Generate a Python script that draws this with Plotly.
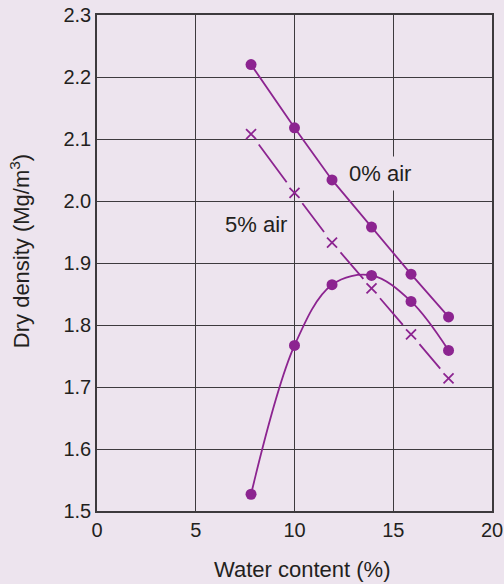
import math
import plotly.graph_objects as go

# water content (%) and dry densities (Mg/m3)
water = [7.8, 10.0, 11.9, 13.9, 15.9, 17.8]
air0 = [2.220, 2.118, 2.034, 1.958, 1.882, 1.813]
air5 = [2.108, 2.013, 1.933, 1.859, 1.785, 1.714]
dry = [1.527, 1.767, 1.865, 1.880, 1.838, 1.759]

x_ticks = [0, 5, 10, 15, 20]
y_ticks = [1.5, 1.6, 1.7, 1.8, 1.9, 2.0, 2.1, 2.2, 2.3]

BG = "#ede4ee"
PURPLE = "#8c2490"
INK = "#231f20"
GRID = "#3d3a3d"
FONT = "Liberation Sans, Arial, sans-serif"

W, H = 504, 584
ML, MR, MT, MB = 97, 12, 15, 73
px_x = (W - ML - MR) / (x_ticks[-1] - x_ticks[0])
px_y = (H - MT - MB) / (y_ticks[-1] - y_ticks[0])

fig = go.Figure()

# compaction curve
fig.add_trace(go.Scatter(x=water, y=dry, mode="lines+markers",
                         line=dict(color=PURPLE, width=1.8, shape="spline", smoothing=1.0),
                         marker=dict(color=PURPLE, size=11)))

# 0% air voids line
fig.add_trace(go.Scatter(x=water, y=air0, mode="lines+markers",
                         line=dict(color=PURPLE, width=1.8),
                         marker=dict(color=PURPLE, size=11)))

# 5% air voids line: one dash per interval, gaps around the crosses
gap = 13
for i in range(len(water) - 1):
    L = math.hypot((water[i + 1] - water[i]) * px_x, (air5[i + 1] - air5[i]) * px_y)
    seg = max(L - 2 * gap, 1)
    fig.add_trace(go.Scatter(x=water[i:i + 2], y=air5[i:i + 2], mode="lines",
                             line=dict(color=PURPLE, width=1.8,
                                       dash="0px,%dpx,%dpx,%dpx" % (gap, round(seg), round(L) + 50))))
fig.add_trace(go.Scatter(x=water, y=air5, mode="markers",
                         marker=dict(color=PURPLE, size=10, symbol="x-thin",
                                     line=dict(color=PURPLE, width=1.8))))

fig.add_annotation(x=14.35, y=2.045, text="0% air", showarrow=False,
                   font=dict(size=22, color=INK), bgcolor=BG, borderpad=4)
fig.add_annotation(x=8.05, y=1.962, text="5% air", showarrow=False,
                   font=dict(size=22, color=INK))

# axis titles
fig.add_annotation(xref="paper", yref="paper", x=0.518, y=-0.117,
                   text="Water content (%)", showarrow=False,
                   font=dict(size=22, color=INK), xanchor="center", yanchor="middle")
fig.add_annotation(xref="paper", yref="paper", x=-0.196, y=0.523,
                   text="Dry density (Mg/m<sup>3</sup>)", showarrow=False, textangle=-90,
                   font=dict(size=22, color=INK), xanchor="center", yanchor="middle")

fig.update_layout(
    width=W, height=H,
    margin=dict(l=ML, r=MR, t=MT, b=MB, autoexpand=False),
    paper_bgcolor=BG, plot_bgcolor=BG,
    showlegend=False, hovermode=False,
    font=dict(family=FONT, color=INK, size=20),
    xaxis=dict(range=[x_ticks[0], x_ticks[-1]], tickvals=x_ticks, automargin=False,
               showgrid=True, gridcolor=GRID, gridwidth=1.3,
               showline=True, linecolor=GRID, linewidth=1.5, mirror=True,
               zeroline=False, ticks="", tickfont=dict(size=20, color=INK)),
    yaxis=dict(range=[y_ticks[0], y_ticks[-1]], tickvals=y_ticks, tickformat=".1f",
               automargin=False,
               showgrid=True, gridcolor=GRID, gridwidth=1.3,
               showline=True, linecolor=GRID, linewidth=1.5, mirror=True,
               zeroline=False, ticks="", tickfont=dict(size=20, color=INK)),
)

# drop the page's default body margin so the figure sits at the window corner
fig.write_html("out.html", config={"displayModeBar": False},
               post_script="document.body.style.margin='0';document.body.style.overflow='hidden';")
